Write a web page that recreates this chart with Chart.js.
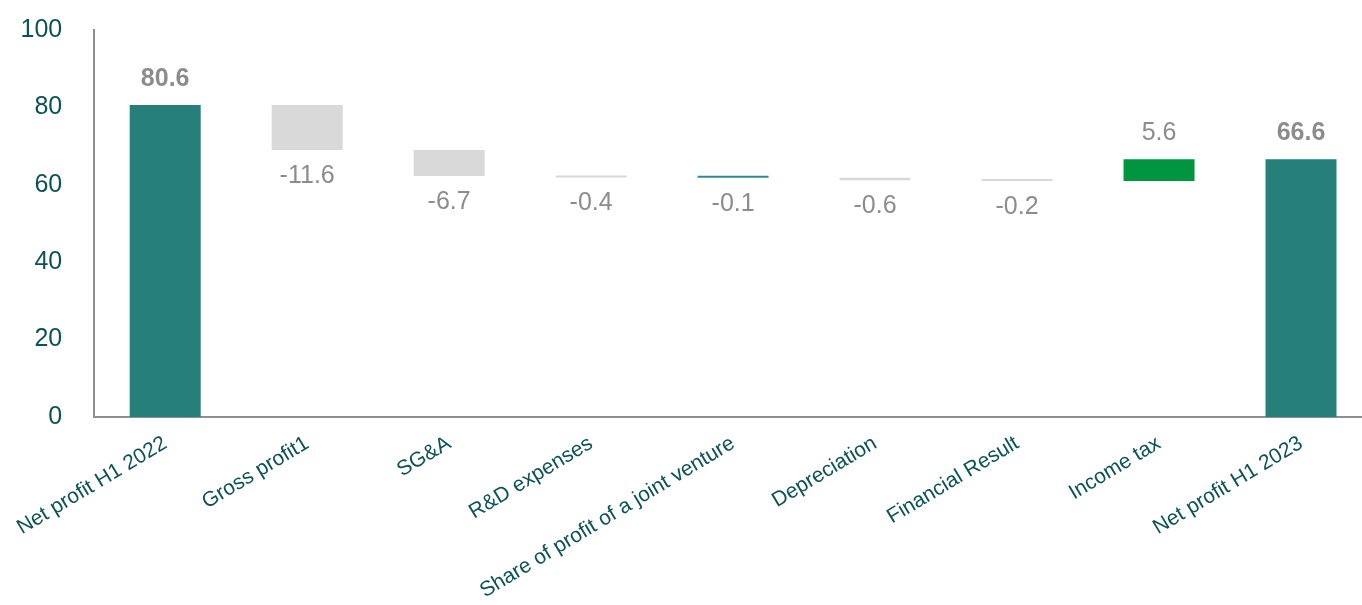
<!DOCTYPE html>
<html>
<head>
<meta charset="utf-8">
<script src="https://cdn.jsdelivr.net/npm/chart.js@4"></script>
<style>
    html, body { margin: 0; padding: 0; background: #ffffff; overflow: hidden; }
    #wrap { width: 1372px; height: 624px; position: relative; top: -17px; }
</style>
</head>
<body>
<div id="wrap"><canvas id="waterfall"></canvas></div>
<script>
// ============================
// Data
// ============================
const categories = [
    "Net profit H1 2022", "Gross profit1", "SG&A", "R&D expenses",
    "Share of profit of a joint venture", "Depreciation", "Financial Result",
    "Income tax", "Net profit H1 2023"
];
const startTotal = 80.6;
const changes = [-11.6, -6.7, -0.4, -0.1, -0.6, -0.2, 5.6];
const endTotal = 66.6;
const yTicks = [0, 20, 40, 60, 80, 100];

// ============================
// Colours
// ============================
const TEAL = "#267f78";
const GREY = "#d9d9d9";
const GREEN = "#009640";
const LINE_TEAL = "#2e8a90";
const LABEL_GREY = "#8c8c8c";
const AXIS_TEXT = "#0d5257";
const FONT = "'Liberation Sans', Arial, sans-serif";

// ============================
// Build waterfall ranges
// ============================
const ranges = [[0, startTotal]];
const labelsTxt = [startTotal.toFixed(1)];
const colors = [TEAL];
let running = startTotal;
changes.forEach((c, i) => {
    const next = Math.round((running + c) * 10) / 10;
    ranges.push([running, next]);
    labelsTxt.push(c.toFixed(1));
    if (c > 0) colors.push(GREEN);
    else if (Math.abs(c) < 0.15) colors.push(LINE_TEAL);
    else colors.push(GREY);
    running = next;
});
ranges.push([0, endTotal]);
labelsTxt.push(endTotal.toFixed(1));
colors.push(TEAL);

const isTotal = i => i === 0 || i === categories.length - 1;

// ============================
// Value labels plugin
// ============================
const valueLabels = {
    id: "valueLabels",
    afterDatasetsDraw(chart) {
        const ctx = chart.ctx;
        const meta = chart.getDatasetMeta(0);
        ctx.save();
        ctx.textAlign = "center";
        ctx.textBaseline = "middle";
        ctx.fillStyle = LABEL_GREY;
        meta.data.forEach((bar, i) => {
            const top = Math.min(bar.y, bar.base);
            const bottom = Math.max(bar.y, bar.base);
            const r = ranges[i];
            const up = isTotal(i) || r[1] > r[0];
            ctx.font = (isTotal(i) ? "bold " : "") + "25px " + FONT;
            const y = up ? top - 26 : bottom + 26;
            ctx.fillText(labelsTxt[i], bar.x, y);
        });
        ctx.restore();
    }
};

// ============================
// Chart
// ============================
new Chart(document.getElementById("waterfall"), {
    type: "bar",
    data: {
        labels: categories,
        datasets: [{
            data: ranges,
            backgroundColor: colors,
            borderWidth: 0,
            minBarLength: 2,
            barPercentage: 0.5,
            categoryPercentage: 1.0
        }]
    },
    options: {
        responsive: true,
        maintainAspectRatio: false,
        animation: false,
        layout: { padding: { top: 6, right: 0, left: 0, bottom: 0 } },
        plugins: {
            legend: { display: false },
            tooltip: { enabled: false }
        },
        scales: {
            x: {
                offset: true,
                grid: { display: false, drawTicks: false },
                border: { display: true, color: "#8f8f8f", width: 2 },
                ticks: {
                    color: AXIS_TEXT,
                    font: { family: FONT, size: 21 },
                    minRotation: 31,
                    maxRotation: 31,
                    autoSkip: false,
                    padding: 14
                },
                afterFit(scale) { scale.height = 190; }
            },
            y: {
                min: 0,
                max: 100,
                afterBuildTicks(scale) { scale.ticks = yTicks.map(v => ({ value: v })); },
                grid: { display: false, drawTicks: false },
                border: { display: true, color: "#8f8f8f", width: 2 },
                ticks: {
                    color: AXIS_TEXT,
                    font: { family: FONT, size: 25 },
                    padding: 32
                },
                afterFit(scale) { scale.width = 92; }
            }
        }
    },
    plugins: [valueLabels]
});
</script>
</body>
</html>
